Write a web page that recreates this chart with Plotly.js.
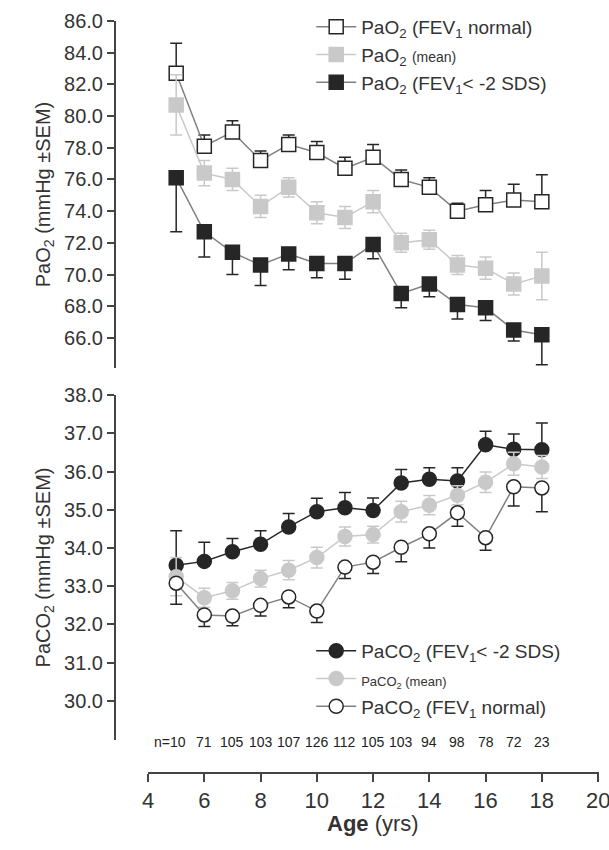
<!DOCTYPE html>
<html><head><meta charset="utf-8">
<script src="https://cdn.plot.ly/plotly-3.0.1.min.js"></script>
<style>body{margin:0}#chart{width:609px;height:850px}</style>
</head><body><div id="chart"></div>
<script>
const ages = [5,6,7,8,9,10,11,12,13,14,15,16,17,18];
const nLabels = ['n=10','71','105','103','107','126','112','105','103','94','98','78','72','23'];
const ageTicks = [4,6,8,10,12,14,16,18,20];

const pao2Normal = [82.7,78.1,79.0,77.2,78.2,77.7,76.7,77.4,76.0,75.5,74.0,74.4,74.7,74.6];
const pao2NormalErr = [1.9,0.7,0.7,0.6,0.6,0.7,0.7,0.8,0.6,0.6,0.5,0.9,1.0,1.7];
const pao2Mean = [80.7,76.4,76.0,74.3,75.5,73.9,73.6,74.6,72.0,72.2,70.6,70.4,69.4,69.9];
const pao2MeanErr = [1.9,0.8,0.7,0.7,0.6,0.7,0.7,0.7,0.6,0.6,0.6,0.7,0.7,1.5];
const pao2Low = [76.1,72.7,71.4,70.6,71.3,70.7,70.7,71.9,68.8,69.4,68.1,67.9,66.5,66.2];
const pao2LowErr = [3.4,1.6,1.4,1.3,1.0,0.9,1.0,0.9,0.9,0.8,0.9,0.8,0.7,1.9];

const paco2Low = [33.55,33.65,33.9,34.1,34.55,34.95,35.05,34.98,35.7,35.8,35.75,36.7,36.58,36.57];
const paco2LowErr = [0.9,0.5,0.35,0.35,0.35,0.35,0.4,0.33,0.35,0.3,0.35,0.35,0.4,0.7];
const paco2Mean = [33.25,32.7,32.88,33.2,33.42,33.75,34.3,34.35,34.95,35.12,35.38,35.72,36.2,36.12];
const paco2MeanErr = [0.5,0.25,0.22,0.22,0.25,0.27,0.25,0.22,0.27,0.25,0.25,0.27,0.3,0.3];
const paco2Normal = [33.08,32.25,32.22,32.5,32.72,32.35,33.5,33.63,34.02,34.37,34.92,34.27,35.6,35.57];
const paco2NormalErr = [0.55,0.3,0.25,0.28,0.28,0.3,0.3,0.3,0.38,0.37,0.35,0.33,0.5,0.62];

const DARK = '#262626', LIGHT = '#c9c9c9', MID = '#808080';
const zeros = ages.map(() => 0);
const H = 850;

function series(y, err, dir, opts) {
    const e = {type: 'data', symmetric: dir === 'both', array: dir === 'down' ? zeros : err,
               thickness: 1.5, width: 6, color: opts.ecolor};
    if (dir !== 'both') e.arrayminus = dir === 'down' ? err : zeros;
    return {x: ages, y: y, type: 'scatter', mode: 'lines+markers', name: opts.name,
            xaxis: opts.xa, yaxis: opts.ya, legend: opts.legend,
            line: {color: opts.lcolor, width: 1.5},
            marker: {symbol: opts.symbol, size: 14, color: opts.fill, line: {color: opts.ecolor, width: 1.5}},
            error_y: e};
}

const traces = [
    series(pao2Normal, pao2NormalErr, 'up', {name: 'PaO<sub>2</sub> (FEV<sub>1</sub> normal)', xa: 'x', ya: 'y', legend: 'legend',
        lcolor: MID, symbol: 'square', fill: '#fff', ecolor: DARK}),
    series(pao2Mean, pao2MeanErr, 'both', {name: 'PaO<sub>2</sub> <span style="font-size:14px">(mean)</span>', xa: 'x', ya: 'y', legend: 'legend',
        lcolor: LIGHT, symbol: 'square', fill: LIGHT, ecolor: LIGHT}),
    series(pao2Low, pao2LowErr, 'down', {name: 'PaO<sub>2</sub> (FEV<sub>1</sub>< -2 SDS)', xa: 'x', ya: 'y', legend: 'legend',
        lcolor: MID, symbol: 'square', fill: DARK, ecolor: DARK}),
    series(paco2Low, paco2LowErr, 'up', {name: 'PaCO<sub>2</sub> (FEV<sub>1</sub>< -2 SDS)', xa: 'x2', ya: 'y2', legend: 'legend2',
        lcolor: DARK, symbol: 'circle', fill: DARK, ecolor: DARK}),
    series(paco2Mean, paco2MeanErr, 'both', {name: '<span style="font-size:13px">PaCO<sub>2</sub> (mean)</span>', xa: 'x2', ya: 'y2', legend: 'legend2',
        lcolor: LIGHT, symbol: 'circle', fill: LIGHT, ecolor: LIGHT}),
    series(paco2Normal, paco2NormalErr, 'down', {name: 'PaCO<sub>2</sub> (FEV<sub>1</sub> normal)', xa: 'x2', ya: 'y2', legend: 'legend2',
        lcolor: MID, symbol: 'circle', fill: '#fff', ecolor: DARK})
];

const font = {family: 'Arial, Liberation Sans, sans-serif', color: '#333'};
const yBase = {showline: true, linecolor: '#444', linewidth: 2, ticks: 'outside', ticklen: 7, tickwidth: 2,
               tickcolor: '#444', showgrid: false, zeroline: false, tickformat: '.1f',
               tickfont: {size: 20}};
const xHidden = {range: [2.86, 20.21], visible: false, showgrid: false, zeroline: false};
const pd = (top, bot) => [1 - bot / H, 1 - top / H];

const annotations = ages.map((a, i) => ({x: a, y: 1 - 752 / H, xref: 'x2', yref: 'paper', text: nLabels[i],
    showarrow: false, font: {size: 14, color: '#222'}, xanchor: i === 0 ? 'right' : 'center',
    xshift: i === 0 ? 12 : 0}));
annotations.push({x: 12, y: 1 - 838 / H, xref: 'x3', yref: 'paper', showarrow: false,
    text: '<b>Age</b> (yrs)', font: {size: 22, color: '#333'}});
// last tick label sits on the page edge, so it is placed by hand
annotations.push({x: 20, y: 1 - 800 / H, xref: 'x3', yref: 'paper', yanchor: 'middle', showarrow: false,
    text: String(ageTicks[ageTicks.length - 1]), font: {size: 22, color: '#333'}});

const layout = {
    width: 609, height: 850, margin: {l: 116, r: 5, t: 0, b: 0},
    paper_bgcolor: '#fff', plot_bgcolor: 'rgba(0,0,0,0)', font: font,
    xaxis: Object.assign({anchor: 'y'}, xHidden),
    xaxis2: Object.assign({anchor: 'y2'}, xHidden),
    xaxis3: {range: [4, 20.02], domain: [32 / 488, 482.6 / 488], anchor: 'free', position: 1 - 773 / H,
             showline: true, linecolor: '#444', linewidth: 2, ticks: 'outside', ticklen: 8, tickwidth: 2,
             tickcolor: '#444', tickvals: ageTicks,
             ticktext: ageTicks.map((t, i) => i === ageTicks.length - 1 ? '' : String(t)), tickfont: {size: 22},
             showgrid: false, zeroline: false},
    yaxis: Object.assign({}, yBase, {domain: pd(21, 368), range: [64.1, 86], tickvals: [66,68,70,72,74,76,78,80,82,84,86],
             title: {text: 'PaO<sub>2</sub> (mmHg ±SEM)', font: {size: 20}, standoff: 8}}),
    yaxis2: Object.assign({}, yBase, {domain: pd(395, 740), range: [28.98, 38], tickvals: [30,31,32,33,34,35,36,37,38],
             title: {text: 'PaCO<sub>2</sub> (mmHg ±SEM)', font: {size: 20}, standoff: 8}}),
    legend: {x: 0.4, y: 1 - 8 / H, xanchor: 'left', yanchor: 'top', bgcolor: 'rgba(0,0,0,0)',
             font: {size: 19, color: '#333'}, tracegroupgap: 0, itemwidth: 40},
    legend2: {x: 0.4, y: 1 - 632 / H, xanchor: 'left', yanchor: 'top', bgcolor: 'rgba(0,0,0,0)',
             font: {size: 19, color: '#333'}, tracegroupgap: 0, itemwidth: 40, traceorder: 'normal'},
    annotations: annotations,
    showlegend: true
};

// empty trace so xaxis3 is drawn
traces.push({x: [4], y: [null], xaxis: 'x3', yaxis: 'y2', showlegend: false, hoverinfo: 'skip', type: 'scatter'});

Plotly.newPlot('chart', traces, layout, {staticPlot: true});
</script></body></html>
